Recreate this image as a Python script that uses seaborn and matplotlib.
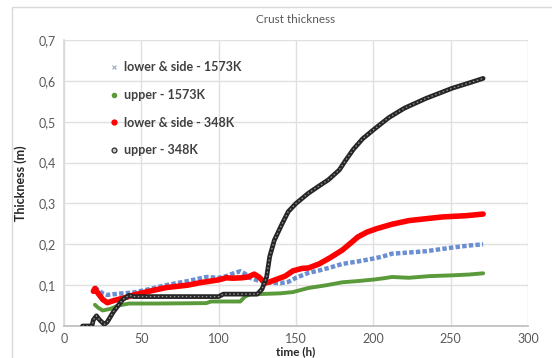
import matplotlib
matplotlib.use("Agg")
import matplotlib.pyplot as plt
from matplotlib.lines import Line2D
from matplotlib.patches import Rectangle
from matplotlib.ticker import FuncFormatter
import seaborn as sns
import pandas as pd

# ---- data ----
blue_t = [20, 22, 25, 28, 35, 45, 55, 66, 80, 92, 100, 105, 109, 114, 117, 120, 125, 133, 140, 145,
          150, 158, 165, 172, 180, 190, 200, 206, 212, 220, 234, 251, 262, 271]
blue_y = [0.095, 0.088, 0.080, 0.076, 0.079, 0.082, 0.090, 0.100, 0.110, 0.120, 0.118, 0.122, 0.128,
          0.134, 0.128, 0.118, 0.112, 0.106, 0.105, 0.108, 0.118, 0.130, 0.136, 0.143, 0.152, 0.158,
          0.165, 0.170, 0.177, 0.179, 0.183, 0.192, 0.197, 0.200]

green_t = [20, 22, 25, 30, 35, 42, 60, 92, 95, 114, 117, 120, 125, 140, 148, 158, 170, 180, 190,
           201, 207, 212, 223, 236, 251, 262, 271]
green_y = [0.052, 0.045, 0.038, 0.042, 0.050, 0.055, 0.055, 0.056, 0.060, 0.060, 0.072, 0.077,
           0.078, 0.080, 0.083, 0.093, 0.100, 0.107, 0.110, 0.114, 0.117, 0.120, 0.118, 0.122,
           0.124, 0.126, 0.129]

red_t = [19, 20, 22, 25, 28, 32, 40, 45, 55, 66, 80, 88, 95, 100, 105, 109, 115, 119, 123, 126,
         130, 133, 138, 143, 148, 154, 158, 165, 172, 180, 186, 190, 196, 202, 212, 223, 235, 245,
         260, 271]
red_y = [0.085, 0.092, 0.080, 0.065, 0.057, 0.062, 0.070, 0.076, 0.085, 0.094, 0.100, 0.106, 0.110,
         0.113, 0.118, 0.117, 0.118, 0.120, 0.127, 0.120, 0.105, 0.108, 0.115, 0.122, 0.135, 0.141,
         0.142, 0.152, 0.167, 0.186, 0.205, 0.218, 0.230, 0.238, 0.249, 0.258, 0.263, 0.267, 0.270,
         0.274]

black_t = [12, 18, 19, 21, 23, 26, 28, 32, 38, 42, 45, 60, 100, 103, 120, 125, 128, 131, 133, 136,
           141, 145, 150, 158, 165, 171, 178, 182, 187, 193, 200, 210, 220, 234, 251, 262, 271]
black_y = [0.0, 0.0, 0.015, 0.025, 0.015, 0.004, 0.010, 0.035, 0.065, 0.075, 0.072, 0.072, 0.072,
           0.078, 0.078, 0.078, 0.090, 0.120, 0.170, 0.210, 0.250, 0.280, 0.300, 0.325, 0.343, 0.358,
           0.382, 0.405, 0.432, 0.458, 0.480, 0.510, 0.533, 0.557, 0.582, 0.595, 0.606]

labels = ["lower & side - 1573K", "upper - 1573K", "lower & side - 348K", "upper - 348K"]
x_ticks = [0, 50, 100, 150, 200, 250, 300]
y_ticks = [0.0, 0.1, 0.2, 0.3, 0.4, 0.5, 0.6, 0.7]

sns.set_theme(style="white")
plt.rcParams["font.family"] = ["Lato", "DejaVu Sans"]

fig = plt.figure(figsize=(5.52, 3.58), dpi=100)
fig.patches.append(Rectangle((12 / 552, -0.05), 1.0, 1 - 7 / 358 + 0.05, transform=fig.transFigure,
                             fill=False, edgecolor="#d9d9d9", linewidth=1.0))
ax = fig.add_axes([64 / 552, 1 - 326 / 358, (528 - 64) / 552, (326 - 40) / 358])

df_b = pd.DataFrame({"t": blue_t, "y": blue_y})
df_g = pd.DataFrame({"t": green_t, "y": green_y})
df_r = pd.DataFrame({"t": red_t, "y": red_y})
df_k = pd.DataFrame({"t": black_t, "y": black_y})

sns.lineplot(data=df_b, x="t", y="y", ax=ax, color="#6b8fd0", linewidth=3.2, linestyle=(0, (1, 0.5)),
             sort=False, zorder=3)
sns.lineplot(data=df_g, x="t", y="y", ax=ax, color="#5a9a3a", linewidth=2.8, sort=False, zorder=4)
sns.lineplot(data=df_r, x="t", y="y", ax=ax, color="#ff0000", linewidth=4.0, sort=False, zorder=5)
sns.lineplot(data=df_k, x="t", y="y", ax=ax, color="#262626", linewidth=3.4, sort=False, zorder=6)
sns.lineplot(data=df_k, x="t", y="y", ax=ax, color="#9a9a9a", linewidth=0.9, linestyle=(0, (1.2, 2.0)),
             sort=False, zorder=7)

ax.set_xlim(0, 300)
ax.set_ylim(0, 0.7)
ax.set_xticks(x_ticks)
ax.set_yticks(y_ticks)
ax.yaxis.set_major_formatter(FuncFormatter(lambda v, p: f"{v:.1f}".replace(".", ",")))
ax.grid(True, color="#e0e0e0", linewidth=1.0)
ax.set_axisbelow(True)
for s in ["top", "right"]:
    ax.spines[s].set_visible(False)
ax.spines["left"].set_color("#d9d9d9")
ax.spines["bottom"].set_color("#bfbfbf")
ax.tick_params(axis="both", labelsize=9, colors="#595959", length=0, pad=6)
ax.tick_params(axis="x", pad=5)

ax.set_xlabel("time (h)", fontsize=8.5, fontweight="bold", color="#262626", labelpad=1)
ax.set_ylabel("Thickness (m)", fontsize=9, fontweight="bold", color="#262626", labelpad=8)
ax.set_title("Crust thickness", fontsize=8.5, color="#595959", pad=12)

handles = [
    Line2D([], [], linestyle="none", marker="x", markersize=3, color="#a0a8c0", markeredgewidth=0.8),
    Line2D([], [], linestyle="none", marker="o", markersize=3, color="#5a9a3a"),
    Line2D([], [], linestyle="none", marker="o", markersize=3.5, color="#ff0000"),
    Line2D([], [], linestyle="none", marker="o", markersize=3.5, markerfacecolor="#cccccc",
           markeredgecolor="#303030", markeredgewidth=0.9),
]
leg = ax.legend(handles, labels, loc="upper left", bbox_to_anchor=(0.075, 0.965), frameon=False,
                fontsize=9, labelspacing=1.25, handlelength=0.6, handletextpad=0.5)
for txt in leg.get_texts():
    txt.set_color("#404040")
    txt.set_fontweight("bold")

fig.savefig("out.png", dpi=100)
